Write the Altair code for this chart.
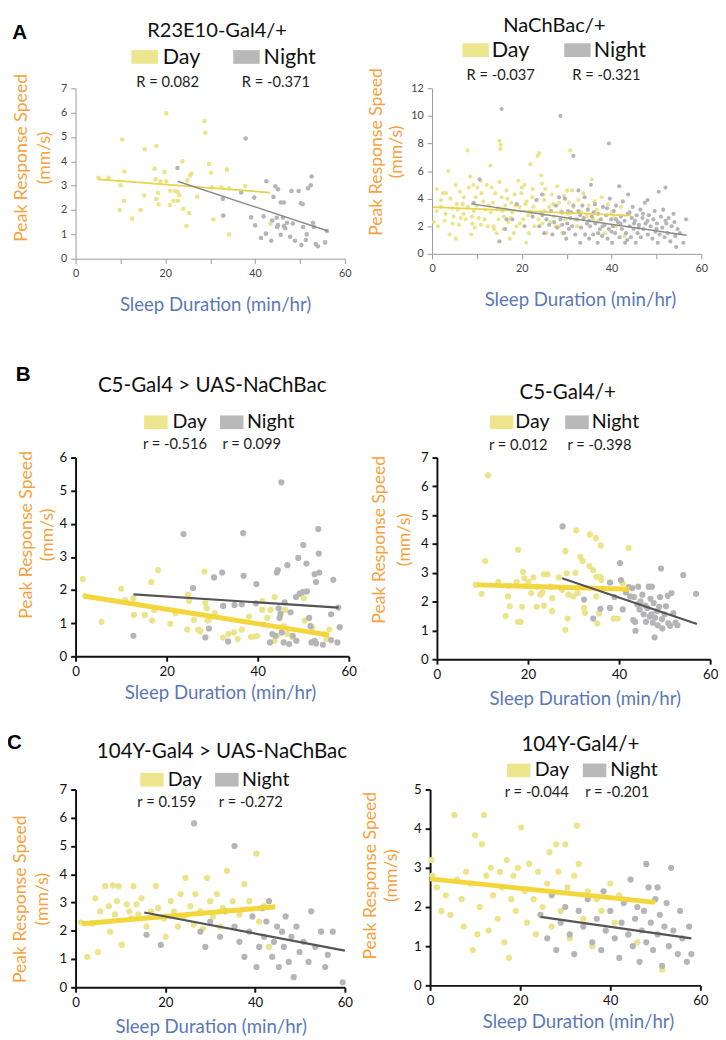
import altair as alt
import pandas as pd

FONT = "Lato"
LETTER_FONT = "Liberation Sans"
ORANGE = "#f5a23e"
BLUE = "#5a78b8"
DAY_PT = "#ece48a"
NIGHT_PT = "#b5b5b8"
DAY_SW = "#ede68e"
NIGHT_SW = "#b9b9b9"

# ---------------- data ----------------
TITLES = ["R23E10-Gal4/+", "NaChBac/+", "C5-Gal4 > UAS-NaChBac", "C5-Gal4/+",
          "104Y-Gal4 > UAS-NaChBac", "104Y-Gal4/+"]
CORR = [("R = 0.082", "R = -0.371"), ("R = -0.037", "R = -0.321"),
        ("r = -0.516", "r = 0.099"), ("r = 0.012", "r = -0.398"),
        ("r = 0.159", "r = -0.272"), ("r = -0.044", "r = -0.201")]
LEGEND = ["Day", "Night"]
LETTERS = ["A", "B", "C"]
X_TITLE = "Sleep Duration (min/hr)"
Y_TITLE = ["Peak Response Speed", "(mm/s)"]
Y_MAX = [7, 12, 6, 7, 7, 5]
Y_TICKS = [[0, 1, 2, 3, 4, 5, 6, 7], [0, 2, 4, 6, 8, 10, 12], [0, 1, 2, 3, 4, 5, 6],
           [0, 1, 2, 3, 4, 5, 6, 7], [0, 1, 2, 3, 4, 5, 6, 7],
           [0, 0.5, 1, 1.5, 2, 2.5, 3, 3.5, 4, 4.5, 5]]
X_TICKS_A = [0, 10, 20, 30, 40, 50, 60]
X_TICKS_BC = [0, 20, 40, 60]

A1_DAY = [(5.1, 3.32), (7.3, 3.32), (10.4, 4.90), (10.9, 3.58), (10.0, 3.02), (9.8, 2.00), (10.8, 2.38),
          (12.6, 1.64), (14.5, 2.00), (15.3, 2.60), (15.4, 4.50), (17.6, 3.70), (18.0, 4.63), (17.8, 3.26),
          (18.0, 2.45), (18.5, 2.24), (18.4, 2.70), (18.9, 3.18), (19.8, 3.56), (20.2, 3.18), (20.2, 5.97),
          (21.1, 2.79), (21.0, 2.21), (21.8, 2.38), (22.2, 2.78), (22.7, 2.75), (22.8, 2.38), (23.1, 2.62),
          (23.8, 4.00), (24.0, 2.05), (24.7, 1.34), (24.9, 3.22), (25.3, 1.88), (25.5, 3.42), (25.8, 3.49),
          (27.1, 2.55), (28.7, 5.66), (28.9, 5.17), (29.7, 3.89), (30.2, 3.53), (30.4, 2.93), (30.7, 1.61),
          (32.5, 2.93), (33.7, 3.66), (34.2, 2.89), (34.2, 1.00), (37.8, 2.99), (43.4, 1.44)]
A1_NIGHT = [(22.7, 3.73), (32.8, 2.46), (32.9, 1.77), (36.9, 2.72), (37.9, 4.94), (39.1, 1.70), (39.8, 2.51),
            (40.0, 1.37), (41.3, 0.85), (41.9, 1.74), (42.5, 3.18), (42.4, 1.03), (43.6, 0.74), (43.8, 1.57),
            (44.1, 2.54), (44.5, 2.98), (45.1, 2.85), (44.8, 1.68), (44.9, 1.30), (45.1, 1.38), (45.7, 0.98),
            (45.7, 2.31), (46.4, 2.31), (46.2, 1.68), (46.4, 1.34), (46.7, 1.25), (47.1, 1.48), (47.8, 0.90),
            (48.1, 2.78), (48.4, 1.45), (48.9, 0.74), (49.7, 2.78), (50.2, 2.28), (50.6, 2.24), (50.3, 0.56),
            (50.7, 1.30), (51.3, 0.77), (51.5, 1.00), (51.8, 2.89), (52.4, 3.02), (52.6, 3.38), (52.9, 1.48),
            (53.1, 1.30), (53.5, 0.60), (54.0, 0.51), (55.6, 0.67), (56.0, 1.14)]
A1_FIT_DAY = [(5.1, 3.26), (43.3, 2.72)]
A1_FIT_NIGHT = [(22.7, 3.18), (56.2, 1.14)]

A2_DAY = [(0.4, 2.3), (1.0, 4.7), (1.0, 3.1), (2.4, 4.4), (2.8, 2.4), (3.1, 4.4), (3.6, 6.0), (3.9, 1.4),
          (4.1, 4.0), (4.6, 2.2), (5.3, 5.0), (5.3, 1.1), (5.5, 3.6), (5.7, 3.2), (6.0, 2.1), (6.4, 2.6),
          (6.8, 3.6), (7.1, 4.1), (7.9, 7.5), (8.2, 4.8), (8.5, 5.6), (8.7, 1.4), (9.0, 2.2), (9.2, 5.0),
          (9.3, 3.1), (9.7, 4.1), (9.9, 3.5), (10.1, 4.8), (10.4, 2.6), (10.9, 2.1), (11.4, 3.8), (11.9, 3.2),
          (12.2, 5.0), (12.4, 2.0), (13.0, 6.4), (13.1, 3.0), (13.6, 3.7), (13.7, 2.0), (14.1, 4.4), (14.4, 1.5),
          (14.8, 2.5), (15.0, 8.2), (15.2, 7.6), (15.3, 7.9), (15.0, 5.2), (15.5, 4.1), (15.7, 3.1), (15.9, 1.8),
          (16.3, 3.5), (16.6, 4.6), (17.0, 2.3), (17.3, 1.1), (17.7, 3.7), (17.9, 3.0), (18.4, 4.3), (18.8, 2.0),
          (19.2, 5.3), (19.5, 3.4), (19.9, 4.4), (20.3, 2.5), (20.6, 5.0), (21.0, 0.8), (21.1, 3.8), (21.6, 1.5),
          (21.9, 6.5), (22.1, 3.0), (22.4, 4.7), (22.8, 2.0), (23.2, 3.9), (23.5, 7.1), (23.9, 7.3), (24.1, 3.0),
          (24.3, 5.7), (24.5, 5.1), (24.6, 2.2), (25.0, 3.9), (25.2, 4.7), (25.5, 1.5), (26.1, 3.4), (26.7, 4.3),
          (27.2, 2.7), (27.5, 2.0), (28.3, 3.7), (29.0, 1.5), (29.7, 2.5), (30.8, 7.5), (30.5, 3.7), (31.2, 4.6),
          (31.8, 2.5), (32.3, 2.0), (32.6, 3.9), (33.2, 3.0), (34.1, 1.4), (34.9, 3.5), (35.6, 5.4), (35.9, 2.5),
          (36.7, 3.2), (37.8, 4.1), (38.5, 1.5), (40.0, 3.0), (41.0, 2.0), (42.1, 3.4), (42.9, 1.3), (1.3, 2.0),
          (2.0, 3.4), (4.8, 2.7), (7.5, 2.5), (10.8, 5.3), (13.8, 1.8), (16.0, 2.7), (18.2, 1.5), (20.8, 3.6),
          (22.3, 4.1), (25.0, 3.1), (28.3, 2.0), (30.1, 4.6), (2.0, 3.9), (3.0, 2.9), (4.4, 3.3), (6.2, 4.5),
          (7.0, 2.9), (8.0, 3.4), (8.9, 2.7), (9.5, 1.9), (11.0, 4.4), (11.7, 2.5), (12.7, 3.5), (13.3, 4.8),
          (14.6, 3.3), (16.8, 4.0), (17.5, 2.6), (18.6, 3.5), (19.6, 2.2), (20.0, 4.8), (21.4, 2.8), (22.6, 3.4),
          (23.7, 2.5), (24.8, 4.3), (26.4, 2.3), (27.0, 3.6), (27.9, 4.9), (28.7, 3.1), (29.4, 4.2), (30.3, 2.9),
          (31.5, 3.4), (33.7, 4.4), (34.5, 2.7), (36.2, 3.8), (37.0, 2.4), (39.2, 3.6), (40.6, 2.6)]
A2_NIGHT = [(9.3, 3.7), (10.6, 5.4), (15.0, 0.9), (15.5, 10.5), (16.3, 1.8), (16.6, 2.5), (17.9, 2.5), (18.9, 3.6),
            (20.6, 2.0), (22.4, 2.7), (23.3, 3.9), (23.9, 2.0), (24.5, 4.3), (24.6, 2.8), (25.0, 1.5), (25.5, 2.5),
            (26.1, 2.1), (26.5, 3.1), (26.8, 1.4), (27.2, 2.3), (27.6, 3.5), (27.9, 1.9), (28.3, 4.1), (28.6, 10.0),
            (28.6, 2.5), (29.0, 3.0), (29.4, 1.5), (29.6, 4.0), (29.9, 1.1), (30.1, 2.2), (30.3, 3.1), (30.5, 1.8),
            (30.8, 2.6), (31.2, 2.0), (31.5, 7.1), (31.5, 3.5), (31.9, 1.4), (32.3, 2.5), (32.6, 4.6), (32.6, 3.1),
            (33.0, 0.8), (33.2, 1.9), (33.5, 3.5), (33.8, 2.6), (34.0, 4.1), (34.1, 1.4), (34.5, 2.2), (34.7, 3.2),
            (35.0, 1.1), (35.2, 2.0), (35.4, 5.0), (35.6, 2.7), (35.9, 1.4), (36.3, 3.6), (36.4, 2.2), (36.9, 0.8),
            (37.0, 2.9), (37.4, 1.8), (37.6, 2.5), (37.9, 1.3), (38.1, 3.4), (38.5, 2.1), (38.8, 2.8), (39.1, 1.1),
            (39.4, 8.0), (39.4, 1.8), (39.6, 4.0), (39.9, 2.5), (40.1, 0.8), (40.3, 2.0), (40.5, 3.1), (40.8, 1.5),
            (41.0, 3.5), (41.4, 2.3), (41.7, 4.9), (41.8, 1.2), (42.1, 2.7), (42.3, 1.8), (42.5, 3.8), (42.9, 2.4),
            (43.0, 0.8), (43.2, 1.5), (43.6, 2.9), (43.7, 4.3), (44.0, 2.0), (44.3, 1.2), (44.5, 2.6), (44.7, 3.4),
            (44.9, 1.8), (45.2, 2.4), (45.4, 0.8), (45.6, 2.8), (45.8, 1.5), (46.1, 2.1), (46.4, 3.2), (46.5, 1.2),
            (46.9, 2.6), (47.1, 1.8), (47.4, 3.7), (47.6, 2.2), (48.0, 3.9), (48.1, 1.4), (48.3, 2.8), (48.7, 2.0),
            (49.1, 1.1), (49.3, 2.5), (49.6, 3.1), (49.8, 1.6), (50.1, 2.2), (50.3, 0.8), (50.5, 4.5), (50.7, 1.4),
            (51.0, 2.7), (51.3, 1.9), (51.5, 3.2), (51.8, 1.2), (52.0, 4.8), (52.2, 2.2), (52.5, 1.5), (52.7, 2.6),
            (53.1, 0.9), (53.4, 2.0), (53.8, 2.9), (54.2, 1.3), (54.4, 0.5), (54.7, 1.8), (55.2, 1.5), (56.6, 2.5),
            (56.0, 0.8), (36.0, 3.0), (38.0, 2.0), (40.0, 1.6), (42.0, 2.2), (44.0, 3.0), (46.0, 1.9), (48.0, 2.4),
            (50.0, 1.8), (52.0, 2.4), (54.0, 2.3), (47.0, 2.9), (45.0, 2.2), (43.5, 1.0), (41.0, 2.5), (39.0, 3.3),
            (37.0, 1.5), (35.0, 2.4), (33.0, 2.8), (31.0, 3.0), (29.0, 2.1)]
A2_FIT_DAY = [(0.2, 3.38), (44.3, 2.77)]
A2_FIT_NIGHT = [(8.7, 3.62), (56.7, 1.35)]

B1_DAY = [(1.6, 2.33), (2.1, 1.82), (5.7, 1.04), (10.0, 2.04), (10.9, 1.70), (12.7, 1.75), (12.8, 1.25),
          (15.2, 1.25), (16.6, 2.24), (16.8, 1.08), (17.3, 1.40), (18.1, 2.60), (20.8, 0.98), (22.0, 1.30),
          (24.5, 0.81), (24.7, 1.86), (24.9, 1.67), (26.0, 1.10), (26.9, 0.81), (27.4, 0.75), (28.3, 2.56),
          (28.5, 1.60), (28.8, 1.45), (29.0, 1.08), (29.3, 1.10), (30.6, 1.30), (32.4, 0.57), (33.6, 0.67),
          (34.8, 0.72), (35.6, 0.52), (36.5, 0.81), (38.1, 1.20), (38.5, 0.59), (39.1, 0.59), (39.9, 0.62),
          (41.0, 1.67), (41.0, 1.40), (41.4, 0.96), (42.1, 1.16), (42.8, 1.40), (43.7, 0.47), (43.7, 1.79),
          (44.2, 0.62), (45.7, 0.91), (46.0, 1.40), (46.5, 0.67), (47.7, 0.57), (50.1, 1.76), (50.3, 1.08),
          (52.0, 0.86), (54.6, 0.67), (55.7, 0.81), (55.1, 0.52)]
B1_NIGHT = [(12.7, 0.62), (23.7, 3.69), (25.8, 2.06), (28.5, 0.57), (29.3, 0.84), (30.4, 2.38), (32.2, 2.53),
            (32.4, 1.52), (33.5, 0.45), (34.9, 1.55), (36.5, 1.57), (36.8, 3.72), (36.9, 2.43), (39.6, 1.60),
            (39.7, 2.18), (42.7, 0.42), (43.2, 0.67), (43.9, 0.62), (44.2, 2.53), (44.4, 2.60), (44.6, 1.45),
            (44.8, 1.16), (45.0, 1.28), (45.2, 5.25), (45.3, 0.72), (45.7, 0.42), (45.9, 1.63), (46.5, 2.75),
            (46.9, 0.37), (47.2, 1.33), (47.7, 0.62), (48.4, 1.79), (48.5, 0.47), (48.9, 2.97), (49.2, 1.89),
            (49.9, 1.94), (50.0, 3.36), (50.7, 2.80), (50.8, 1.96), (51.3, 1.16), (51.6, 0.91), (51.8, 0.42),
            (52.5, 2.48), (52.5, 0.47), (52.8, 2.24), (52.8, 0.39), (53.3, 3.84), (53.4, 3.10), (53.5, 2.53),
            (54.3, 0.35), (56.1, 1.27), (56.1, 0.49), (56.6, 2.31), (57.5, 0.42), (57.7, 1.47), (58.0, 0.88)]
B1_FIT_DAY = [(1.8, 1.82), (55.7, 0.64)]
B1_FIT_NIGHT = [(12.7, 1.87), (57.8, 1.47)]

B2_DAY = [(8.5, 2.58), (9.8, 2.27), (10.6, 3.41), (11.2, 6.38), (13.5, 2.69), (15.1, 1.50), (15.6, 2.55),
          (15.6, 2.18), (16.0, 1.84), (17.5, 2.69), (17.8, 3.80), (17.8, 1.30), (18.4, 1.30), (18.7, 1.82),
          (18.9, 3.03), (19.2, 2.81), (19.6, 2.55), (20.1, 2.69), (20.7, 2.30), (21.2, 2.84), (21.9, 1.82),
          (22.1, 2.52), (22.7, 2.24), (23.2, 2.32), (23.5, 1.86), (23.5, 2.95), (24.3, 2.95), (25.0, 2.52),
          (25.3, 2.12), (25.3, 1.67), (26.8, 2.84), (27.5, 2.41), (28.2, 3.75), (28.2, 1.02), (28.5, 2.98),
          (28.7, 1.41), (28.9, 2.24), (30.0, 2.18), (30.4, 3.00), (30.6, 4.47), (30.9, 2.30), (31.5, 3.55),
          (32.0, 3.41), (32.3, 1.78), (32.5, 1.61), (33.5, 3.23), (33.6, 4.33), (34.3, 3.09), (34.9, 4.20),
          (35.0, 2.18), (35.0, 2.86), (35.2, 1.25), (35.6, 1.59), (35.9, 2.86), (36.0, 3.95), (36.1, 2.75),
          (38.8, 1.41), (39.7, 1.41), (40.8, 2.64), (42.1, 3.86)]
B2_NIGHT = [(27.6, 4.61), (32.3, 2.07), (34.3, 1.41), (35.9, 1.75), (38.0, 1.78), (38.0, 2.66), (39.0, 2.16),
            (40.2, 3.34), (40.4, 2.75), (40.8, 1.73), (41.5, 2.32), (42.1, 2.50), (42.4, 2.18), (42.9, 2.47),
            (43.1, 1.36), (43.3, 2.16), (43.5, 1.30), (43.6, 0.99), (44.0, 1.90), (44.2, 2.52), (44.5, 1.73),
            (44.7, 2.01), (45.1, 2.24), (45.4, 1.56), (45.8, 1.86), (45.9, 1.30), (46.2, 1.78), (46.5, 2.52),
            (46.7, 1.48), (46.9, 2.10), (47.1, 1.56), (47.2, 2.52), (47.4, 1.27), (47.6, 1.95), (47.8, 0.76),
            (47.9, 1.44), (48.3, 1.67), (48.5, 1.18), (48.8, 1.82), (49.0, 2.16), (49.2, 3.15), (49.4, 1.39),
            (49.5, 1.07), (50.0, 1.56), (50.3, 1.84), (50.7, 2.20), (50.8, 1.25), (51.2, 1.16), (51.5, 2.30),
            (51.9, 1.59), (52.4, 1.27), (52.8, 1.18), (54.1, 2.92), (56.9, 2.27)]
B2_FIT_DAY = [(8.8, 2.58), (42.2, 2.43)]
B2_FIT_NIGHT = [(27.5, 2.81), (57.1, 1.22)]

C1_DAY = [(1.2, 2.30), (2.6, 1.08), (3.7, 2.26), (4.4, 3.15), (5.0, 1.25), (5.5, 2.69), (6.6, 3.58), (7.4, 2.87),
          (7.7, 1.97), (8.3, 3.60), (8.8, 2.58), (9.2, 3.05), (9.6, 3.58), (10.3, 1.50), (11.4, 2.94), (12.0, 2.69),
          (12.5, 2.44), (12.9, 3.58), (13.6, 2.94), (14.0, 2.58), (14.7, 3.15), (15.8, 2.15), (16.8, 2.69),
          (17.9, 3.58), (18.4, 2.80), (19.7, 2.44), (20.1, 1.79), (21.2, 3.05), (21.9, 2.69), (22.8, 2.15),
          (23.4, 3.30), (24.1, 2.51), (24.5, 3.87), (25.6, 2.87), (26.3, 2.22), (26.7, 3.30), (27.8, 2.69),
          (28.4, 2.08), (29.3, 3.87), (30.0, 3.05), (30.6, 2.51), (31.5, 3.30), (32.2, 2.15), (32.8, 2.80),
          (33.7, 4.12), (35.0, 3.05), (36.5, 2.58), (37.6, 3.65), (38.7, 3.05), (40.3, 4.73), (40.9, 2.33),
          (42.0, 2.87), (43.1, 1.43)]
C1_NIGHT = [(15.8, 1.86), (19.0, 1.50), (26.4, 5.80), (27.8, 1.97), (28.9, 1.43), (30.0, 2.33), (32.2, 1.79),
            (33.3, 2.69), (35.4, 5.00), (35.4, 2.15), (36.5, 1.61), (37.6, 1.08), (38.7, 1.97), (39.4, 2.51),
            (40.3, 0.72), (40.9, 1.43), (41.6, 2.80), (42.0, 1.79), (42.5, 2.33), (43.1, 3.05), (43.8, 1.08),
            (44.2, 1.61), (44.9, 2.15), (45.3, 0.72), (46.0, 1.97), (46.4, 1.43), (46.8, 2.51), (47.5, 0.90),
            (48.1, 1.79), (48.6, 0.36), (49.2, 2.15), (49.9, 1.25), (50.8, 1.61), (51.9, 0.90), (52.5, 2.69),
            (53.4, 1.43), (54.7, 1.97), (55.6, 0.72), (56.2, 1.15), (57.3, 1.97), (59.5, 0.18)]
C1_FIT_DAY = [(1.5, 2.25), (44.5, 2.85)]
C1_FIT_NIGHT = [(15.3, 2.65), (60.0, 1.30)]

C2_DAY = [(0.3, 3.2), (0.5, 2.8), (1.5, 2.5), (2.5, 1.9), (3.5, 2.3), (4.5, 1.8), (5.4, 4.35), (6.0, 2.7),
          (7.0, 2.2), (7.5, 1.5), (8.0, 2.9), (9.0, 2.6), (9.5, 0.9), (10.0, 3.83), (10.5, 1.3), (11.0, 2.0),
          (11.5, 3.6), (12.0, 4.35), (12.5, 2.8), (13.0, 1.4), (13.5, 3.0), (14.0, 2.3), (15.0, 1.7), (15.5, 2.9),
          (16.0, 2.5), (16.5, 1.1), (17.0, 3.2), (17.5, 0.7), (18.0, 2.2), (18.5, 2.8), (19.0, 1.9), (19.5, 3.0),
          (20.2, 4.03), (21.0, 2.4), (21.5, 1.6), (22.0, 3.1), (23.0, 2.2), (23.5, 1.3), (24.0, 2.9), (25.0, 2.0),
          (26.0, 2.6), (26.5, 3.4), (27.0, 1.5), (28.0, 3.6), (28.5, 2.9), (29.0, 1.9), (30.0, 3.6), (30.5, 2.5),
          (31.0, 1.2), (32.0, 2.8), (32.6, 4.08), (33.0, 3.1), (34.0, 1.7), (35.0, 2.4), (36.0, 1.0), (37.0, 2.2),
          (38.0, 1.9), (39.0, 1.4), (40.0, 2.6), (41.0, 1.6), (42.0, 2.3), (44.0, 1.3), (46.0, 1.1), (51.5, 0.4)]
C2_NIGHT = [(24.5, 1.8), (26.0, 1.2), (27.0, 2.3), (28.0, 0.9), (29.0, 1.6), (30.0, 2.0), (31.0, 1.3), (32.0, 0.8),
            (33.0, 1.9), (34.0, 1.5), (35.0, 2.2), (36.0, 1.1), (37.0, 1.7), (38.0, 0.9), (38.5, 2.4), (39.0, 1.4),
            (40.0, 1.9), (41.0, 1.2), (42.0, 0.7), (42.5, 1.6), (43.0, 2.1), (44.0, 1.3), (44.5, 2.7), (45.0, 1.0),
            (45.5, 1.7), (46.0, 2.0), (46.5, 0.6), (47.0, 1.4), (47.5, 1.9), (48.0, 1.1), (48.5, 2.5), (49.0, 1.6),
            (49.5, 0.9), (50.0, 2.2), (50.5, 1.3), (51.0, 1.8), (51.5, 0.5), (52.0, 1.5), (52.5, 2.1), (53.0, 1.0),
            (53.5, 3.0), (54.0, 1.4), (55.0, 0.8), (55.5, 1.9), (56.0, 1.2), (57.0, 0.6), (57.5, 1.5), (58.0, 0.8),
            (48.0, 3.1), (50.5, 2.5)]
C2_FIT_DAY = [(0.0, 2.72), (50.0, 2.12)]
C2_FIT_NIGHT = [(24.5, 1.75), (58.0, 1.20)]

SERIES = [(A1_DAY, A1_NIGHT, A1_FIT_DAY, A1_FIT_NIGHT), (A2_DAY, A2_NIGHT, A2_FIT_DAY, A2_FIT_NIGHT),
          (B1_DAY, B1_NIGHT, B1_FIT_DAY, B1_FIT_NIGHT), (B2_DAY, B2_NIGHT, B2_FIT_DAY, B2_FIT_NIGHT),
          (C1_DAY, C1_NIGHT, C1_FIT_DAY, C1_FIT_NIGHT), (C2_DAY, C2_NIGHT, C2_FIT_DAY, C2_FIT_NIGHT)]

# ---------------- layout / style (pixels relative to plot area) ----------------
# columns: left [0, 362], right [362, 724]; rows: A [4, 318], B [318, 716], C [716, 1034]
LAYOUT = [
    dict(w=275, h=174, L=73, R=14, D=70, E=70, light=True, dot=22, letter=(-57, -56.5),
         title=(144.5, -58), tsize=20.5, sw=[(70.5, -32), (174.5, -32)], swsz=(27, 14),
         lab=[(89, -32), (192, -32)], lsize=22, corr=[(94, -6), (204.5, -6)],
         yt=[(-55, 71), (-31, 71)], xtx=142.5, xty=47),
    dict(w=275, h=169, L=75, R=12, D=75, E=70, light=True, dot=18, letter=None,
         title=(125, -63.5), tsize=20.5, sw=[(44.5, -39), (148.5, -39)], swsz=(27, 14),
         lab=[(61, -39), (165, -39)], lsize=22, corr=[(70, -14), (178, -14)],
         yt=[(-56, 65), (-36, 65)], xtx=151, xty=47),
    dict(w=279, h=203, L=68, R=15, D=133, E=62, light=False, dot=40, letter=(-53.5, -84),
         title=(139.5, -72.5), tsize=21, sw=[(82, -36), (159.5, -36)], swsz=(24, 14),
         lab=[(99, -36), (175, -36)], lsize=20, corr=[(101.5, -14), (180, -14)],
         yt=[(-49, 79), (-28, 79)], xtx=147.5, xty=37),
    dict(w=279, h=206, L=75, R=8, D=128, E=64, light=False, dot=40, letter=None,
         title=(133.5, -66), tsize=21, sw=[(66, -36), (143, -36)], swsz=(24, 14),
         lab=[(80, -36), (158, -36)], lsize=20, corr=[(83, -13), (166, -13)],
         yt=[(-58, 84), (-33, 84)], xtx=151, xty=40),
    dict(w=275, h=202, L=77, R=10, D=62, E=54, light=False, dot=40, letter=(-62.5, -47.5),
         title=(149.5, -38.5), tsize=21, sw=[(78, -10), (154.5, -10)], swsz=(24, 14),
         lab=[(94, -10), (170, -10)], lsize=20, corr=[(93, 13), (179, 13)],
         yt=[(-56, 112), (-33, 112)], xtx=138, xty=40),
    dict(w=276, h=200, L=77, R=9, D=69, E=49, light=False, dot=40, letter=None,
         title=(153.5, -45), tsize=21, sw=[(90.5, -19.5), (168, -19.5)], swsz=(24, 14),
         lab=[(107, -19.5), (184, -19.5)], lsize=20, corr=[(109, 3), (191, 3)],
         yt=[(-60, 88), (-39, 88)], xtx=151, xty=37),
]


def pairs_df(pairs):
    return pd.DataFrame(pairs, columns=["x", "y"])


def text_layer(s, x, y, size, color="#111111", align="left", weight="normal", font=FONT, angle=0):
    return alt.Chart(pd.DataFrame({"t": [s]})).mark_text(
        align=align, baseline="middle", font=font, fontSize=size, fontWeight=weight, color=color, angle=angle
    ).encode(x=alt.value(x), y=alt.value(y), text="t:N")


def rect_layer(x1, x2, y1, y2, color, opacity=1.0):
    return alt.Chart(pd.DataFrame({"k": [0]})).mark_rect(color=color, opacity=opacity).encode(
        x=alt.value(x1), x2=alt.value(x2), y=alt.value(y1), y2=alt.value(y2))


def panel(i, letter=None):
    lay = LAYOUT[i]
    day, night, fit_day, fit_night = SERIES[i]
    W, H = lay["w"], lay["h"]
    light = lay["light"]
    if light:
        st = dict(domainColor="#9a9a9a", domainWidth=1, tickColor="#9a9a9a", tickWidth=1, tickSize=5,
                  labelColor="#444444", labelFontSize=11, labelFont=FONT, labelPadding=4)
        xvals = X_TICKS_A
        day_line = dict(color="#e6d44c", strokeWidth=1.8)
        night_line = dict(color="#8c8c8c", strokeWidth=1.5)
    else:
        st = dict(domainColor="#111111", domainWidth=2, tickColor="#111111", tickWidth=2, tickSize=5,
                  labelColor="#111111", labelFontSize=13.5, labelFont=FONT, labelPadding=4)
        xvals = X_TICKS_BC
        day_line = dict(color="#f3d63c", strokeWidth=5)
        night_line = dict(color="#555555", strokeWidth=2.2)

    xs = alt.Scale(domain=[0, 60], nice=False, zero=False)
    ys = alt.Scale(domain=[0, Y_MAX[i]], nice=False)
    x_axis = alt.Axis(values=xvals, labelExpr="datum.value % 20 === 0 ? datum.label : ''",
                      grid=False, labelFlush=False, labelOverlap=False,
                      titleX=lay["xtx"], titleY=lay["xty"], titleBaseline="middle", titleAlign="center",
                      titleFont=FONT, titleFontSize=19, titleFontWeight="normal", titleColor=BLUE, **st)
    y_axis = alt.Axis(values=Y_TICKS[i], format="d",
                      labelExpr="datum.value % 1 === 0 ? datum.label : ''",
                      grid=False, labelOverlap=False, **st)
    xe = alt.X("x:Q", scale=xs, axis=x_axis, title=X_TITLE)
    ye = alt.Y("y:Q", scale=ys, axis=y_axis, title=None)

    spacer = rect_layer(-lay["L"], W + lay["R"], -lay["D"], H + lay["E"], "#ffffff", opacity=0)
    pts_day = alt.Chart(pairs_df(day)).mark_circle(size=lay["dot"], color=DAY_PT, opacity=1).encode(x=xe, y=ye)
    pts_night = alt.Chart(pairs_df(night)).mark_circle(size=lay["dot"], color=NIGHT_PT, opacity=1).encode(x=xe, y=ye)
    ln_day = alt.Chart(pairs_df(fit_day)).mark_line(**day_line).encode(x=xe, y=ye)
    ln_night = alt.Chart(pairs_df(fit_night)).mark_line(**night_line).encode(x=xe, y=ye)

    deco = [text_layer(TITLES[i], lay["title"][0], lay["title"][1], lay["tsize"], align="center")]
    for k, line in enumerate(Y_TITLE):
        deco.append(text_layer(line, lay["yt"][k][0], lay["yt"][k][1], 18, color=ORANGE,
                               align="center", angle=270))
    sw_w, sw_h = lay["swsz"]
    for k, col in enumerate([DAY_SW, NIGHT_SW]):
        cx, cy = lay["sw"][k]
        deco.append(rect_layer(cx - sw_w / 2, cx + sw_w / 2, cy - sw_h / 2, cy + sw_h / 2, col))
        deco.append(text_layer(LEGEND[k], lay["lab"][k][0], lay["lab"][k][1], lay["lsize"]))
        deco.append(text_layer(CORR[i][k], lay["corr"][k][0], lay["corr"][k][1], 15,
                               color="#222222", align="center"))
    if letter is not None:
        deco.append(text_layer(letter, lay["letter"][0], lay["letter"][1], 21, color="#000000",
                               align="center", weight="bold", font=LETTER_FONT))

    return alt.layer(spacer, pts_day, pts_night, ln_day, ln_night, *deco).properties(width=W, height=H)


rows = []
for r in range(3):
    rows.append(alt.hconcat(panel(2 * r, LETTERS[r]), panel(2 * r + 1), spacing=0))

chart = alt.vconcat(*rows, spacing=0).properties(
    padding={"left": -8, "top": -4, "right": 0, "bottom": 0}
).configure_view(stroke=None)

chart.save("out.html", embed_options={"renderer": "svg", "actions": False})
